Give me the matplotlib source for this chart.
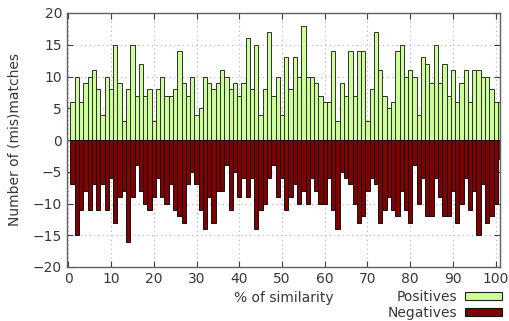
import numpy as np
import matplotlib
matplotlib.use("Agg")
import matplotlib.pyplot as plt
from matplotlib.patches import Patch

# counts per % of similarity (1..101, last bar clipped by the frame)
positives = [6, 10, 6, 9, 10, 11, 8, 4, 10, 8, 15, 9, 3, 8, 15, 7, 12, 7, 8, 3, 8, 10, 7, 7, 8, 14,
             9, 7, 10, 4, 5, 10, 9, 8, 9, 11, 10, 8, 9, 7, 9, 16, 8, 15, 4, 8, 17, 7, 10, 4, 13,
             8, 13, 10, 18, 10, 10, 9, 7, 6, 6, 14, 3, 9, 7, 14, 7, 14, 14, 3, 8, 17, 11, 7, 5, 6, 14,
             15, 10, 11, 10, 4, 13, 12, 9, 15, 9, 12, 7, 11, 6, 9, 11, 6, 11, 11, 10, 10, 8, 6, 6]
negatives = [-7, -15, -11, -8, -11, -7, -11, -7, -11, -6, -13, -9, -8, -16, -9, -4, -8, -10, -11, -9, -6, -9, -10, -7, -11, -12,
             -13, -7, -5, -7, -11, -14, -9, -13, -8, -8, -4, -11, -5, -9, -6, -9, -6, -14, -11, -10, -6, -4, -9, -6, -11,
             -9, -7, -10, -8, -10, -6, -8, -10, -10, -6, -11, -14, -5, -6, -7, -10, -13, -12, -8, -6, -7, -13, -11, -9, -11, -12,
             -8, -11, -13, -4, -10, -6, -12, -12, -6, -9, -12, -12, -8, -13, -10, -6, -11, -8, -15, -7, -13, -12, -10, -3]
x_ticks = list(range(0, 101, 10))
y_ticks = list(range(-20, 21, 5))

x = np.arange(1, len(positives) + 1)

fig = plt.figure(figsize=(5.09, 3.21), dpi=100)
ax = fig.add_axes([67 / 509, 1 - 267 / 321, 433 / 509, 254 / 321])

ax.bar(x, positives, width=1.0, color='#ccff99', edgecolor='#303030', linewidth=0.7, zorder=2)
ax.bar(x, negatives, width=1.0, color='#800000', edgecolor='#101010', linewidth=0.7, zorder=2)

ax.set_xlim(-0.3, 101.0)
ax.set_ylim(-20, 20)
ax.set_xticks(x_ticks)
ax.set_yticks(y_ticks)
ax.set_axisbelow(True)
ax.grid(True, color='#b0b0b0', linestyle=(0, (1, 3)), linewidth=0.8)

txt = '#383838'
ax.tick_params(direction='in', length=4, width=0.8, color='#404040', top=True, right=True,
               labelsize=10, labelcolor=txt)
for s in ax.spines.values():
    s.set_color('#606060')
    s.set_linewidth(1.0)

ax.set_xlabel('% of similarity', fontsize=10, color=txt, labelpad=4)
ax.set_ylabel('Number of (mis)matches', fontsize=10, color=txt, labelpad=8)

handles = [Patch(facecolor='#ccff99', edgecolor='#202020', linewidth=0.8),
           Patch(facecolor='#800000', edgecolor='#101010', linewidth=0.8)]
fig.legend(handles, ['Positives', 'Negatives'], loc='upper right',
           bbox_to_anchor=(502 / 509, 1 - 290 / 321), frameon=False, markerfirst=False,
           fontsize=10, labelcolor=txt, handlelength=2.7, handleheight=0.5,
           handletextpad=0.5, labelspacing=0.12, borderpad=0, borderaxespad=0)

fig.savefig('out.png', dpi=100)
